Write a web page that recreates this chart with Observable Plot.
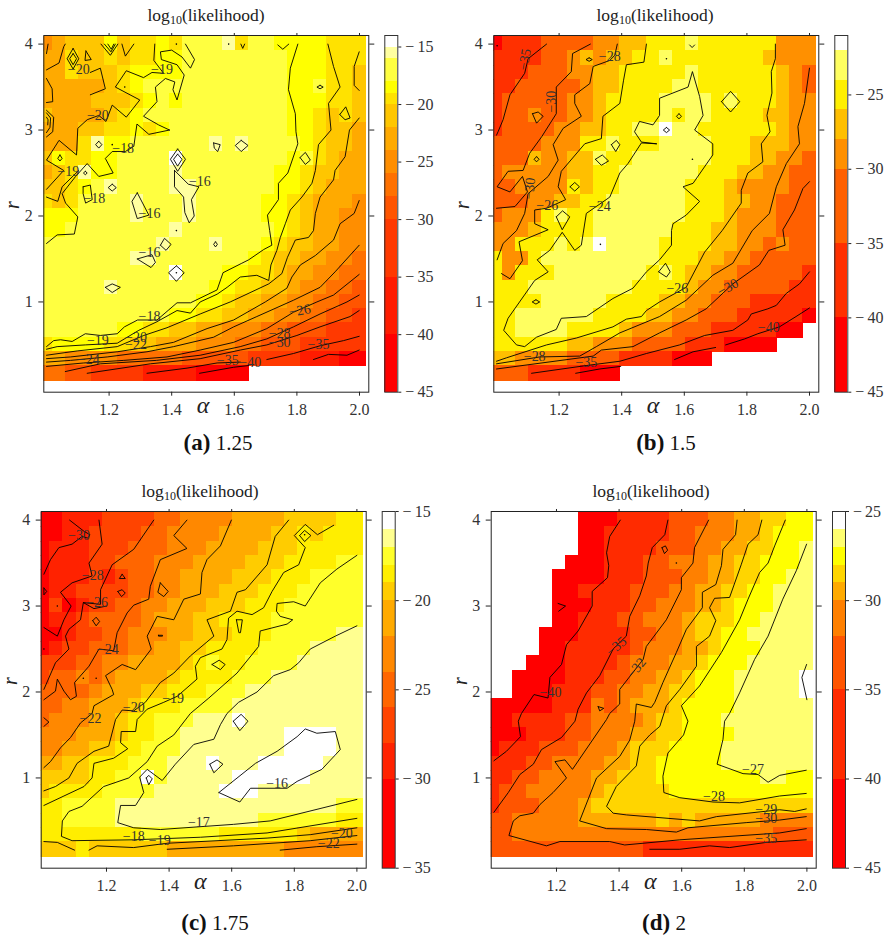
<!DOCTYPE html>
<html><head><meta charset="utf-8">
<script src="https://cdn.jsdelivr.net/npm/d3@7"></script>
<script src="https://cdn.jsdelivr.net/npm/@observablehq/plot@0.6"></script>
<style>
html,body{margin:0;padding:0;background:#fff;width:886px;height:935px;overflow:hidden;font-family:"Liberation Serif",serif}
#page{position:relative;width:886px;height:935px}
#page svg{position:absolute;background:none;max-width:none}
.ttl{position:absolute;font-size:17.5px;line-height:18px;color:#222;white-space:nowrap;transform:translateX(-50%)}
.ttl sub{font-size:12px;line-height:0;vertical-align:-3px}
.cap{position:absolute;font-size:21px;line-height:24px;color:#111;white-space:nowrap;transform:translateX(-50%)}
.cap b{font-size:23px}
</style></head><body><div id="page"></div>
<script>
// ---------- value bands (lower breaks to upper) and their colours ----------
const breaksA=[-45,-40,-35,-30,-28,-26,-24,-22,-20,-19,-18,-16,-15,-14];
const colorsA=["#ff0000","#ff1c00","#ff3900","#ff5500","#ff7100","#ff8e00","#ffaa00","#ffc600","#ffe200","#ffff00","#ffff40","#ffffa0","#ffffff"];
const breaksB=[-45,-40,-35,-30,-28,-26,-24,-22,-21];
const colorsB=["#ff0000","#ff3000","#ff6000","#ff9000","#ffbf00","#ffef00","#ffff60","#ffffff"];
const breaksC=[-35,-30,-28,-26,-24,-22,-20,-19,-18,-17,-16,-15];
const colorsC=["#ff0000","#ff2200","#ff4400","#ff6600","#ff8800","#ffaa00","#ffcc00","#ffee00","#ffff2a","#ffff90","#ffffff"];
const breaksD=[-45,-40,-35,-32,-30,-29,-28,-27,-26,-25];
const colorsD=["#ff0000","#ff2b00","#ff5500","#ff8000","#ffaa00","#ffd500","#ffff00","#ffff70","#ffffff"];

// ---------- grid axes ----------
const alphaValues=[1,1.0417,1.0833,1.125,1.1667,1.2083,1.25,1.2917,1.3333,1.375,1.4167,1.4583,1.5,1.5417,1.5833,1.625,1.6667,1.7083,1.75,1.7917,1.8333,1.875,1.9167,1.9583,2];
const rValues=[4,3.8333,3.6667,3.5,3.3333,3.1667,3,2.8333,2.6667,2.5,2.3333,2.1667,2,1.8333,1.6667,1.5,1.3333,1.1667,1,.8333,.6667,.5,.3333,.1667];
const xTicks=[1.2,1.4,1.6,1.8,2.0], yTicks=[1,2,3,4];

// ---------- band index per grid cell: rows r=4 down to r=1/6, columns alpha=1 to 2; "." = no value ----------
const gridA=["5677797889"+"8aaab8aa99"+"99888","6687787889"+"9aaaaaaaa9"+"99888","6687778999"+"9aaaaaaaa9"+"99887","66666789aa"+"aaaaaaaaa9"+"9a887","666677789a"+"9aaaaaaaa9"+"99887","76666789aa"+"aaaaaaaaa9"+"98787","6667788989"+"aaaaaaaaa9"+"98776","6668b99aaa"+"aaababaaaa"+"98776","798899aaaa"+"caaaaaaaa9"+"a8766","678b99aaaa"+"baaaaaaa99"+"87766","7789abaaaa"+"bbaaaaaa99"+"87666","878aaaabaa"+"abaaaaa998"+"76665","999aaaabaa"+"abaaaaa998"+"76655","99aaaaaaaa"+"baaaaaaa98"+"76655","aaaaaaaaab"+"aaabaaa987"+"76655","aaaaaaabba"+"aaaaaa9877"+"66554","aaaaaaaaaa"+"caaa998876"+"65544","aaaaabaaaa"+"aaa9988776"+"55443","aaaaaaaaaa"+"aa99877665"+"54433","aaaaaaaaaa"+"9988776655"+"44332","aaaaaa9988"+"7766555443"+"33222","8999988776"+"6655544333"+"22222","6655554444"+"4333332222"+"11100","4433222211"+"110000...."+"....."];
const gridB=["0111222233"+"4455565555"+"55333","1111223434"+"4556555555"+"54333","1112223344"+"5555565555"+"55432","1122222344"+"5555665555"+"55432","1222223345"+"5556666565"+"55433","1223223345"+"5556566555"+"54433","1222233445"+"5667665555"+"55433","2222333556"+"5556666555"+"44433","2224334465"+"5666666555"+"44332","2333334455"+"6666665554"+"43322","2233335455"+"6666655543"+"33322","2223344556"+"6666655544"+"33222","2333565566"+"6666655543"+"33222","3334555566"+"6666555443"+"33222","3355565676"+"6665555443"+"32322","5335666666"+"6665554433"+"22222","5355566666"+"6656544332"+"22221","5556666666"+"6555543322"+"22211","5555666665"+"5554433222"+"11111","5566666655"+"5544332221"+"11110","5566665555"+"4333222111"+"1100.","5555554433"+"3222211100"+"00...","4433332222"+"1111000..."+".....","2221111000"+".........."+"....."];
const gridC=["0011122223"+"3444455556"+"66677","0011222233"+"4444555566"+"76777","0111222333"+"4445555666"+"77777","0111223334"+"4455556667"+"77788","0111212334"+"4555566677"+"78888","0112222334"+"4555666777"+"88888","0201223344"+"5556667778"+"88888","0112333345"+"5566777788"+"88888","0012233444"+"5566677788"+"88899","0122333445"+"5667777888"+"89999","2223344555"+"5678778888"+"99999","2334345555"+"6777788899"+"99999","3333455566"+"7778889999"+"99999","3344555677"+"7888899999"+"99999","3444556778"+"88999a9999"+"99999","4445556778"+"899999999a"+"aaa99","4455667788"+"899999999a"+"aaa99","5566777888"+"999a999aaa"+"aa999","66667788a8"+"99999aaaaa"+"a9999","6777788889"+"9999aaa999"+"99999","7788889999"+"9999999999"+"99988","7788889999"+"9999999888"+"88877","7777777788"+"8888777777"+"65555","6667666666"+"5555555554"+"44444"];
const gridD=[".......000"+"1111222334"+"45566",".......001"+"1111223334"+"45666",".......001"+"1112223344"+"55667","......0001"+"1122333445"+"56667",".....00001"+"1122233445"+"56677",".....00111"+"1222334455"+"66777",".....00011"+"1223334456"+"66777",".....00111"+"2233345556"+"67777","....000111"+"1223345566"+"77777","....001111"+"1233344566"+"67777","...0001111"+"2333445666"+"77777","..00001112"+"2334456667"+"77778","..00011122"+"3344556667"+"77778","0000011132"+"3444566667"+"77777","0011112233"+"3345566677"+"77777","0001112233"+"3445566667"+"77777","0111222333"+"4555666677"+"77777","1112233334"+"4556666677"+"77777","1122333344"+"5556666666"+"67766","1223333345"+"5555666666"+"66666","1222333455"+"5555555555"+"55555","2233333444"+"4445454444"+"43333","2233333333"+"3333333333"+"33222","2222222222"+"2211111111"+"11111"];

// ---------- contour lines as "alpha,r alpha,r ..." ----------
const linesA=[
"1,3.89 1.005,4","1,3.7 1.04,3.78 1.055,3.97 1.06,4",
"1.174,4 1.204,3.87 1.228,4","1.185,4 1.206,3.91 1.22,4","1.196,4 1.207,3.94 1.215,4","1.241,4 1.252,3.86 1.279,4",
"1,3.6 1.018,3.48 1.02,3.33 1,3.32",
"1.444,4 1.473,3.82 1.46,3.72 1.433,3.85 1.4,3.93 1.364,3.91 1.367,3.82 1.417,3.76 1.44,3.64 1.417,3.35 1.404,3.47 1.41,3.56 1.38,3.6 1.348,3.5 1.353,3.33 1.31,3.16 1.358,3.06 1.393,3",
"1.346,4 1.343,3.81 1.374,3.66 1.337,3.67 1.31,3.61 1.255,3.69 1.22,3.5 1.298,3.35 1.255,3.15 1.21,3.29 1.19,3.1 1.167,3.17 1.13,3.12 1.1,3.02 1.096,2.71 1.04,2.88 1,2.65 1.055,2.53 1,2.31",
"1.14,3.67 1.172,3.72 1.188,3.48 1.14,3.41",
"1.393,3 1.327,2.95 1.289,3.07 1.279,2.81 1.252,2.75 1.21,2.75 1.188,2.67 1.213,2.5 1.167,2.46 1.13,2.61 1.093,2.46 1.05,2.26 1.061,2.15 1.1,1.99 1.089,1.79 1.034,1.78 1,1.68",
"1,2.22 1.036,2.17 1.05,2.34 1.103,2.53",
"1,3.23 1.023,3.15 1.02,2.98 1,2.92","1,3.2 1.013,3.14 1.011,3.03 1,2.97","1,3.15 1.005,3.12 1.004,3.06",
"1.621,4 1.627,3.95 1.633,4","1.739,3.99 1.755,3.94 1.774,4",
"1.803,4 1.779,3.72 1.773,3.47 1.795,3.19 1.797,2.98 1.803,2.84 1.771,2.5 1.741,2.38 1.741,2.19 1.706,2.01 1.713,1.83 1.72,1.66 1.694,1.61 1.646,1.49 1.624,1.45 1.564,1.34 1.545,1.14 1.46,.99 1.417,.99 1.353,.79 1.291,.79 1.249,.71 1.226,.63 1.172,.61 1.124,.63 1.082,.54 1.045,.56 1.023,.55 1,.48",
"1.899,4 1.917,3.74 1.938,3.5 1.901,3.31 1.909,3 1.869,2.83 1.859,2.53 1.848,2.38 1.816,2.22 1.779,2.07 1.763,1.91 1.747,1.75 1.736,1.6 1.717,1.43 1.71,1.25 1.672,1.31 1.619,1.29 1.577,1.17 1.545,1.09 1.491,1 1.46,.87 1.417,.9 1.353,.77 1.295,.67 1.226,.52 1.124,.5 1.034,.48 1,.45",
"1.999,3.14 1.968,3 1.954,2.69 1.922,2.53 1.917,2.42 1.874,2.22 1.859,2.03 1.853,1.83 1.837,1.75 1.795,1.72 1.77,1.52 1.752,1.33 1.71,1.21 1.587,1 1.491,.86 1.385,.7 1.311,.61 1.226,.48 1.098,.43 1,.38",
"1.999,2.18 1.983,2.03 1.938,1.91 1.917,1.72 1.859,1.54 1.811,1.43 1.784,1.29 1.768,1.16 1.699,1 1.598,.79 1.513,.69 1.406,.53 1.332,.48 1.226,.42 1.077,.36 1,.34",
"1.999,1.66 1.922,1.35 1.874,1.17 1.789,1.02 1.672,.83 1.598,.71 1.534,.59 1.406,.48 1.321,.42 1.194,.36 1.077,.32 1,.3",
"1.999,1.32 1.917,1.08 1.864,1 1.789,.88 1.704,.69 1.598,.53 1.491,.44 1.385,.36 1.247,.32 1.119,.29 1,.25",
"1.999,1.08 1.96,1 1.874,.86 1.789,.71 1.704,.57 1.619,.48 1.491,.38 1.351,.32 1.172,.28 1.06,.19",
"1.999,.9 1.97,.83 1.874,.71 1.8,.61 1.704,.5 1.619,.44 1.491,.34 1.332,.28 1.13,.17",
"1.999,.6 1.949,.55 1.874,.49 1.789,.4 1.704,.33","1.321,.17 1.449,.23 1.545,.29 1.619,.3","1.489,.17 1.598,.24 1.646,.26","1.999,.44 1.96,.38 1.901,.39 1.853,.33",
"1.999,3.91 1.983,3.74 1.983,3.52 1.999,3.46"];
const ringsA=[
"1.085,3.95 1.103,3.83 1.085,3.71 1.066,3.83","1.085,3.89 1.096,3.83 1.085,3.76 1.074,3.83","1.126,3.92 1.143,3.82 1.123,3.81",
"1.043,2.71 1.05,2.67 1.043,2.64 1.036,2.67","1.167,2.87 1.177,2.83 1.167,2.79 1.157,2.83","1.124,2.52 1.13,2.5 1.124,2.48 1.118,2.5","1.21,2.37 1.223,2.33 1.21,2.29 1.197,2.33",
"1.117,2.34 1.14,2.36 1.146,2.19 1.125,2.15 1.117,2.26","1.29,2.27 1.273,2.17 1.29,1.97 1.327,2.01",
"1.419,2.78 1.444,2.66 1.419,2.52 1.396,2.66","1.419,2.72 1.433,2.66 1.419,2.58 1.406,2.66",
"1.409,2.53 1.453,2.37 1.487,2.34 1.463,2.19 1.472,2 1.456,1.92 1.442,2.04 1.438,2.22 1.409,2.34",
"1.534,2.85 1.555,2.83 1.547,2.75 1.536,2.79","1.622,2.88 1.644,2.82 1.622,2.75 1.603,2.82","1.81,2.68 1.827,2.74 1.843,2.65 1.827,2.6",
"1.874,3.52 1.884,3.5 1.874,3.48 1.864,3.5","1.937,3.18 1.956,3.27 1.97,3.14 1.954,3.12",
"1.364,1.66 1.377,1.74 1.398,1.67 1.382,1.6","1.54,1.7 1.546,1.67 1.54,1.64 1.534,1.67","1.29,1.5 1.337,1.55 1.348,1.46 1.334,1.4",
"1.415,1.42 1.44,1.34 1.415,1.24 1.39,1.34","1.188,1.17 1.21,1.21 1.236,1.17 1.21,1.11"];
const dotsA=["1.25,3.5","1.415,4","1.582,4","1.21,2.83","1.415,1.83","1.415,1.34"];
const labelsA=[["−20",1.103,3.71,0],["−19",1.369,3.7,0],["−20",1.164,3.17,0],["−18",1.245,2.79,0],["−16",1.49,2.4,0],["−18",1.153,2.2,0],["−16",1.329,2.03,0],["−19",1.07,2.52,0],["−16",1.329,1.57,0],["−18",1.329,.83,0],["−19",1.164,.55,0],["−20",1.286,.59,0],["−22",1.286,.5,0],["−24",1.135,.33,0],["−26",1.809,.9,-10],["−28",1.745,.63,0],["−30",1.745,.53,0],["−35",1.869,.5,0],["−35",1.579,.32,0],["−40",1.651,.29,0]];

const linesB=[
"1.16,4 1.101,3.83 1.09,3.66 1.043,3.41 1.021,3.12 1.005,2.98 1,2.94",
"1.3,4 1.243,3.89 1.239,3.68 1.191,3.5 1.191,3.19 1.144,2.92 1.106,2.73 1.085,2.53 1.037,2.52 1.002,2.34 1.043,2.28 1.083,2.46 1.099,2.28 1.059,2.11 1,2.09",
"1.386,4 1.378,3.87 1.362,3.81 1.309,3.74 1.298,3.54 1.25,3.41 1.25,3.31 1.271,3.16 1.213,3.02 1.181,2.83 1.197,2.65 1.165,2.46 1.101,2.26 1.09,2.03 1.064,1.83 1.021,1.68 1.002,1.49",
"1.479,4 1.471,3.79 1.415,3.76 1.406,3.58 1.394,3.31 1.34,3.16 1.335,2.9 1.282,2.84 1.207,2.52 1.197,2.34 1.221,2.19 1.16,2.09 1.122,2.07 1.122,1.91 1.165,1.84 1.072,1.7 1.083,1.48 1.043,1.27 1.016,1.33",
"1.511,2.84 1.463,2.85 1.42,2.61 1.394,2.5 1.362,2.22 1.287,2.03 1.277,1.8 1.271,1.66 1.25,1.6 1.21,1.81 1.17,1.6 1.13,1.49 1.165,1.35 1.122,1.25 1.037,.81 1.023,.67 1.064,.5 1.09,.48 1.128,.59 1.191,.68 1.207,.81 1.287,.83 1.372,1.04 1.436,1.16 1.479,1.35 1.521,1.49 1.559,1.66 1.559,1.83 1.564,1.91 1.606,2.01 1.649,2.17 1.596,2.34 1.628,2.38 1.691,2.71 1.691,2.84 1.633,3 1.66,3.17 1.649,3.39 1.626,3.68 1.612,3.5 1.521,3.37 1.521,3.17 1.5,3.06 1.457,3.1 1.441,2.98 1.463,2.86 1.511,2.84",
"1.891,4 1.891,3.83 1.878,3.68 1.88,3.43 1.864,3.17 1.874,2.98 1.846,2.84 1.851,2.63 1.803,2.5 1.782,2.3 1.782,2.15 1.721,1.83 1.665,1.58 1.606,1.17 1.521,1 1.479,.9 1.463,.83 1.415,.8 1.372,.71 1.255,.58 1.16,.5 1.032,.35 1,.31",
"2,3.72 1.984,3.31 1.963,3.04 1.968,2.84 1.926,2.61 1.894,2.34 1.872,2.03 1.817,1.83 1.755,1.45 1.691,1.31 1.606,1.02 1.521,.83 1.394,.64 1.319,.48 1.266,.37 1.138,.36 1,.28",
"2,2.4 1.979,2.32 1.952,2.07 1.915,1.84 1.922,1.66 1.87,1.6 1.84,1.43 1.755,1.21 1.67,.92 1.606,.79 1.521,.64 1.436,.48 1.335,.44 1.309,.37 1,.22",
"2,1.35 1.968,1.21 1.926,1.1 1.894,.96 1.867,.92 1.814,.86 1.803,.79 1.755,.67 1.665,.61 1.585,.5 1.479,.4 1.394,.31 1.287,.26 1.112,.17",
"2,.93 1.957,.83 1.904,.71 1.835,.63 1.793,.57 1.732,.5","1.7,.47 1.628,.42 1.569,.33","1.397,.25 1.33,.22 1.253,.17",
"1.617,3.99 1.625,3.96 1.633,3.99"];
const ringsB=[
"1.296,3.84 1.306,3.82 1.296,3.8 1.286,3.82","1.115,3.19 1.133,3.21 1.149,3.16 1.128,3.08","1.719,3.33 1.748,3.45 1.777,3.33 1.748,3.21","1.583,3.19 1.591,3.16 1.583,3.13 1.575,3.16","1.543,3.03 1.553,3 1.543,2.97 1.533,3",
"1.367,2.83 1.383,2.88 1.394,2.83 1.381,2.75","1.316,2.66 1.338,2.71 1.358,2.64 1.335,2.59","1.128,2.69 1.136,2.66 1.128,2.63 1.12,2.66","1.235,2.34 1.25,2.39 1.265,2.34 1.25,2.29","1.191,1.99 1.211,2.06 1.234,1.99 1.21,1.84",
"1.518,1.35 1.54,1.45 1.555,1.35 1.543,1.29","1.126,1.025 1.138,1 1.126,.975 1.114,1"];
const dotsB=["1.002,3.98","1.543,3.83","1.626,2.66","1.332,1.67"];
const labelsB=[["−35",1.09,3.82,-80],["−30",1.176,3.33,-90],["−30",1.106,2.32,-85],["−28",1.362,3.85,0],["−26",1.162,2.12,0],["−24",1.33,2.11,0],["−26",1.578,1.16,0],["−30",1.739,1.17,-30],["−40",1.87,.7,0],["−28",1.122,.36,0],["−35",1.287,.3,0]];

const linesC=[
"1.082,4 1.128,3.87 1.147,3.83 1.14,3.79 1.122,3.81 1.09,3.72 1.048,3.68 1.021,3.54 1,3.37",
"1.176,4 1.186,3.72 1.144,3.5 1.154,3.35 1.09,3.27 1.053,3.16 1.087,3 1.064,2.84 1.043,2.65 1,2.75",
"1.351,4 1.287,3.66 1.218,3.48 1.181,3.19 1.181,3.02 1.126,3.04 1.117,2.84 1.08,2.73 1.069,2.65 1.08,2.5 1.037,2.34 1,2.03",
"1.126,3.04 1.16,2.97 1.2,3",
"1,1.91 1.037,2.01 1.043,2.15 1.064,2.01 1.085,1.91 1.104,1.95 1.098,2.11 1.144,2.3 1.176,2.5 1.223,2.48 1.234,2.69 1.266,2.92 1.287,3.01 1.335,3.08 1.34,3.23 1.372,3.54 1.457,3.67 1.415,3.82 1.457,4",
"1.599,4 1.564,3.7 1.521,3.54 1.505,3.39 1.5,3.14 1.447,3.08 1.415,2.84 1.362,2.88 1.33,2.65 1.343,2.5 1.293,2.26 1.25,2.32 1.197,2.19 1.218,2.03 1.223,1.97 1.16,1.84 1.154,1.75 1.117,1.64 1.085,1.47 1.053,1.35 1.021,1.19 1,1.12",
"1.782,4 1.739,3.81 1.713,3.48 1.644,3.19 1.617,3.16 1.596,2.94 1.521,2.84 1.543,2.65 1.468,2.42 1.415,2.22 1.372,2.11 1.324,1.88 1.287,1.78 1.25,1.79 1.229,1.68 1.207,1.37 1.16,1.31 1.106,1.17 1.08,1 1.037,.9 1,.85",
"1.926,3.94 1.874,3.83 1.835,3.95 1.8,3.82 1.835,3.68 1.814,3.48 1.766,3.39 1.729,3.17 1.702,2.98 1.665,2.9 1.617,2.94 1.59,2.86 1.585,2.61 1.569,2.5 1.5,2.4 1.484,2.3 1.489,2.15 1.426,1.95 1.383,1.88 1.33,1.8 1.298,1.68 1.293,1.54 1.247,1.54 1.245,1.41 1.268,1.34 1.223,1.23 1.16,1.17 1.154,1 1.128,.9 1.064,.79 1,.68",
"2,3.59 1.936,3.43 1.883,3.27 1.835,3 1.798,3.05 1.745,3.03 1.743,2.94 1.755,2.88 1.795,2.84 1.777,2.79 1.691,2.71 1.686,2.53 1.617,2.22 1.527,1.93 1.468,1.75 1.415,1.5 1.362,1.37 1.33,1.19 1.271,1 1.191,.9 1.122,.67 1.08,.61 1.059,.5 1.056,.32 1.09,.27 1.287,.28 1.5,.31 1.713,.36 2,.53",
"2,2.77 1.931,2.65 1.851,2.5 1.814,2.34 1.787,2.26 1.734,2.19 1.681,2 1.622,1.88 1.585,1.75 1.564,1.62 1.543,1.45 1.479,1.39 1.42,1.16 1.378,.97 1.33,1.1 1.306,1.01 1.319,.83 1.293,.68 1.245,.68 1.236,.48 1.287,.42 1.372,.4 1.606,.46 1.723,.5 2,.75",
"2,.42 1.851,.34 1.713,.3 1.394,.24 1.287,.19 1.17,.21 1.144,.16","1,.26 1.043,.25 1.098,.16","2,.33 1.851,.27 1.606,.21 1.394,.17","2,.23 1.872,.2 1.755,.16","1,1.7 1.016,1.65 1,1.6"];
const ringsC=[
"1.559,.83 1.676,1.17 1.745,1.31 1.809,1.48 1.835,1.57 1.872,1.52 1.931,1.54 1.947,1.33 1.888,1.1 1.809,.96 1.777,.88 1.66,.88 1.626,.72",
"1.25,3.37 1.26,3.32 1.241,3.32","1.236,3.17 1.25,3.19 1.26,3.15 1.248,3.11","1,3.21 1.009,3.17 1,3.13","1.372,3.27 1.397,3.17 1.383,3.11 1.364,3.16","1.156,2.83 1.167,2.87 1.178,2.82 1.167,2.77","1.615,2.84 1.634,2.84 1.628,2.69 1.623,2.69","1.537,2.32 1.56,2.37 1.579,2.32 1.564,2.26","1.817,3.82 1.833,3.88 1.853,3.82 1.833,3.75","1.605,1.66 1.63,1.74 1.652,1.66 1.626,1.55","1.327,1 1.335,1.03 1.346,.99 1.335,.92","1.53,1.16 1.553,1.21 1.572,1.16 1.543,1.06","1.366,2.66 1.379,2.66 1.379,2.65 1.366,2.65"];
const dotsC=["1.043,3","1,2.5","1.126,2.16","1.167,2.16","1.833,3.83"];
const labelsC=[["−30",1.112,3.82,0],["−28",1.156,3.36,0],["−26",1.17,3.04,0],["−24",1.204,2.5,0],["−20",1.287,1.82,0],["−19",1.413,1.92,0],["−22",1.149,1.69,0],["−16",1.745,.93,0],["−17",1.495,.48,0],["−18",1.287,.32,0],["−19",1.37,.27,0],["−20",1.952,.35,0],["−22",1.91,.24,0]];

const linesD=[
"1.404,4 1.37,3.81 1.36,3.62 1.367,3.47 1.363,3.33 1.314,3.17 1.314,3 1.269,2.71 1.232,2.55 1.216,2.32 1.179,2.17 1.173,1.93 1.128,1.97 1.088,1.75 1.078,1.66 1.085,1.48 1.04,1.31 1,1.2",
"1.556,4 1.546,3.83 1.506,3.68 1.493,3.5 1.487,3.35 1.466,3.12 1.434,2.88 1.423,2.65 1.381,2.5 1.338,2.19 1.296,1.99 1.269,1.8 1.259,1.66 1.216,1.47 1.152,1.33 1.126,1.16 1.083,1.04 1.046,.83 1,.6",
"1.686,4 1.641,3.68 1.636,3.5 1.599,3.33 1.599,3.19 1.551,2.84 1.487,2.53 1.477,2.38 1.402,2.03 1.402,1.86 1.37,1.75 1.36,1.68 1.251,1.1 1.227,1.21 1.195,1.19 1.232,1 1.189,.83 1.147,.69 1.126,.59 1.083,.56 1.062,.5 1.048,.33 1.168,.21 1.211,.26 1.37,.26 1.418,.22 1.594,.28 1.913,.36 1.998,.41",
"1.777,4 1.772,3.83 1.732,3.66 1.727,3.47 1.709,3.25 1.666,3.16 1.666,2.98 1.615,2.73 1.583,2.46 1.54,2.11 1.514,1.88 1.503,1.82 1.455,1.86 1.45,1.66 1.434,1.44 1.402,1.25 1.328,1 1.274,.5 1.36,.41 1.487,.4 1.583,.37 1.62,.42 1.806,.48 1.913,.51 1.998,.55",
"1.856,4 1.844,3.83 1.812,3.72 1.79,3.48 1.753,3.1 1.705,3.09 1.689,2.98 1.709,2.83 1.689,2.65 1.647,2.53 1.647,2.3 1.594,2.03 1.551,1.84 1.53,1.6 1.498,1.5 1.466,1.37 1.455,1.14 1.391,.9 1.36,.67 1.381,.59 1.423,.57 1.657,.5 1.711,.55 1.913,.63 1.961,.61 1.998,.64",
"1.931,4 1.897,3.7 1.876,3.5 1.849,3.39 1.812,3.08 1.785,2.84 1.727,2.46 1.657,2.07 1.599,1.84 1.62,1.66 1.606,1.5 1.556,1.29 1.54,1.02 1.543,.83 1.594,.77 1.7,.72 1.785,.71 1.913,.79 1.998,.82",
"1.999,3.72 1.966,3.41 1.923,3.08 1.876,2.65 1.833,2.38 1.785,1.99 1.753,1.75 1.737,1.66 1.732,1.45 1.713,1.16 1.796,1.05 1.844,1.04 1.876,.95 1.913,1.03 1.998,1.09",
"1.498,.17 1.594,.17 1.689,.21 1.753,.19 1.87,.25 1.998,.28",
"1.205,3.03 1.229,3 1.207,2.94","1.999,2.32 1.984,2.17 2,1.91"];
const ringsD=["1.537,3.68 1.548,3.7 1.555,3.65 1.545,3.61","1.333,1.83 1.351,1.81 1.338,1.78"];
const dotsD=["1.583,3.5"];
const labelsD=[["−35",1.391,2.53,-40],["−32",1.455,2.28,-50],["−40",1.181,1.99,0],["−27",1.828,1.1,0],["−28",1.703,.78,0],["−29",1.87,.63,0],["−30",1.87,.53,0],["−35",1.87,.29,0]];

// ---------- assemble ----------
const page=document.getElementById("page");
const SERIF='"Liberation Serif",serif';
const pairs=s=>s.trim().split(/\s+/).map(p=>p.split(",").map(Number));
function polyRows(lines,rings){
  const out=[];let id=0;
  lines.forEach(s=>{pairs(s).forEach(([a,r])=>out.push({a,r,id}));id++;});
  rings.forEach(s=>{const p=pairs(s);p.push(p[0]);p.forEach(([a,r])=>out.push({a,r,id}));id++;});
  return out;
}
function cellRows(grid,colors){
  const out=[];
  grid.forEach((row,k)=>{[...row].forEach((ch,i)=>{
    if(ch==="."||i>=alphaValues.length)return;
    out.push({a:alphaValues[i],r:rValues[k],color:colors[parseInt(ch,16)]});
  });});
  return out;
}
function place(el,left,top){el.style.position="absolute";el.style.left=left+"px";el.style.top=top+"px";page.appendChild(el);}
function panel(o){
  const top=o.frameTop-7, frameH=356.7, frameW=325, h=frameH+7+34;
  const svgW=o.svgW, ml=o.frameLeft-o.svgLeft;
  const chart=Plot.plot({
    width:svgW,height:h,marginLeft:ml,marginRight:svgW-ml-frameW,marginTop:7,marginBottom:34,
    style:{fontFamily:SERIF,fontSize:"16px",color:"#333",background:"none",overflow:"visible"},
    x:{domain:[.9914,2.0297],label:null},y:{domain:[-.05,4.1],label:null},color:{type:"identity"},
    marks:[
      Plot.rect(cellRows(o.grid,o.colors),{x1:d=>d.a-1/48-.0015,x2:d=>d.a+1/48+.0015,y1:d=>d.r-1/12-.005,y2:d=>d.r+1/12+.005,fill:"color",clip:true,shapeRendering:"crispEdges"}),
      Plot.line(polyRows(o.lines,o.rings),{x:"a",y:"r",z:"id",stroke:"#000",strokeWidth:.9,clip:true}),
      Plot.dot(o.dots.map(s=>s.split(",").map(Number)),{x:d=>d[0],y:d=>d[1],r:.8,fill:"#000",clip:true}),
      Plot.text(o.labels,{x:d=>d[1],y:d=>d[2],text:d=>d[0],rotate:d=>d[3],fontSize:14,fill:"#333"}),
      Plot.frame({stroke:"#222"}),
      Plot.axisX({anchor:"bottom",ticks:xTicks,tickFormat:d3.format(".1f"),tickSize:4,tickPadding:7,label:null,stroke:"#222",fill:"#333"}),
      Plot.axisX({anchor:"top",ticks:xTicks,tickSize:3,label:null,stroke:"#222",fill:"none"}),
      Plot.axisY({anchor:"left",ticks:yTicks,tickFormat:d3.format("d"),tickSize:5,tickPadding:6,label:null,stroke:"#222",fill:"#333"}),
      Plot.axisY({anchor:"right",ticks:yTicks,tickSize:5,label:null,stroke:"#222",fill:"none"}),
      Plot.text(["α"],{x:()=>1.5,frameAnchor:"bottom",dy:21,fontSize:24,fontStyle:"italic",fill:"#222"}),
      Plot.text(["r"],{y:()=>2.08,frameAnchor:"left",dx:-31,rotate:-90,fontSize:20,fontStyle:"italic",fill:"#222"})
    ]
  });
  place(chart,o.svgLeft,top);
  const bands=o.colors.map((c,i)=>({lo:o.breaks[i],hi:o.breaks[i+1],c}));
  const vmin=o.breaks[0],vmax=o.breaks[o.breaks.length-1];
  const barLeft=o.barLeft-o.barSvgLeft;
  const bar=Plot.plot({
    width:o.barSvgW,height:h,marginLeft:barLeft,marginRight:o.barSvgW-barLeft-13,marginTop:7,marginBottom:34,
    style:{fontFamily:SERIF,fontSize:"16px",color:"#333",background:"none",overflow:"visible"},
    x:{domain:[0,1],axis:null},y:{domain:[vmin,vmax],label:null},color:{type:"identity"},
    marks:[
      Plot.rect(bands,{x1:()=>0,x2:()=>1,y1:"lo",y2:"hi",fill:"c",shapeRendering:"crispEdges"}),
      Plot.frame({stroke:"#333"}),
      Plot.axisY({anchor:"right",ticks:o.barTicks,tickFormat:d=>"−\u2009"+Math.abs(d),tickSize:3,tickPadding:4.4,label:null,stroke:"#222",fill:"#333"})
    ]
  });
  place(bar,o.barSvgLeft,top);
  const t=document.createElement("div");t.className="ttl";t.innerHTML="log<sub>10</sub>(likelihood)";
  t.style.left=o.titleX+"px";t.style.top=(o.frameTop-29)+"px";page.appendChild(t);
  const c=document.createElement("div");c.className="cap";c.innerHTML="<b>("+o.tag+")</b> "+o.cap;
  c.style.left=o.capX+"px";c.style.top=(o.frameTop+396+o.capDy)+"px";page.appendChild(c);
}
panel({frameLeft:43.3,frameTop:35,svgLeft:0,svgW:378,barLeft:384.3,barSvgLeft:378,barSvgW:58,grid:gridA,colors:colorsA,breaks:breaksA,lines:linesA,rings:ringsA,dots:dotsA,labels:labelsA,barTicks:[-15,-20,-25,-30,-35,-40,-45],titleX:206,capX:218,capDy:0,tag:"a",cap:"1.25"});
panel({frameLeft:493.3,frameTop:35,svgLeft:446,svgW:382,barLeft:834.3,barSvgLeft:828,barSvgW:58,grid:gridB,colors:colorsB,breaks:breaksB,lines:linesB,rings:ringsB,dots:dotsB,labels:labelsB,barTicks:[-25,-30,-35,-40,-45],titleX:655,capX:666,capDy:0,tag:"b",cap:"1.5"});
panel({frameLeft:40.7,frameTop:510.7,svgLeft:0,svgW:376,barLeft:381.7,barSvgLeft:376,barSvgW:58,grid:gridC,colors:colorsC,breaks:breaksC,lines:linesC,rings:ringsC,dots:dotsC,labels:labelsC,barTicks:[-15,-20,-25,-30,-35],titleX:200,capX:215,capDy:4,tag:"c",cap:"1.75"});
panel({frameLeft:490.7,frameTop:510.7,svgLeft:446,svgW:380,barLeft:832,barSvgLeft:826,barSvgW:58,grid:gridD,colors:colorsD,breaks:breaksD,lines:linesD,rings:ringsD,dots:dotsD,labels:labelsD,barTicks:[-25,-30,-35,-40,-45],titleX:651,capX:664,capDy:4,tag:"d",cap:"2"});
</script></body></html>
